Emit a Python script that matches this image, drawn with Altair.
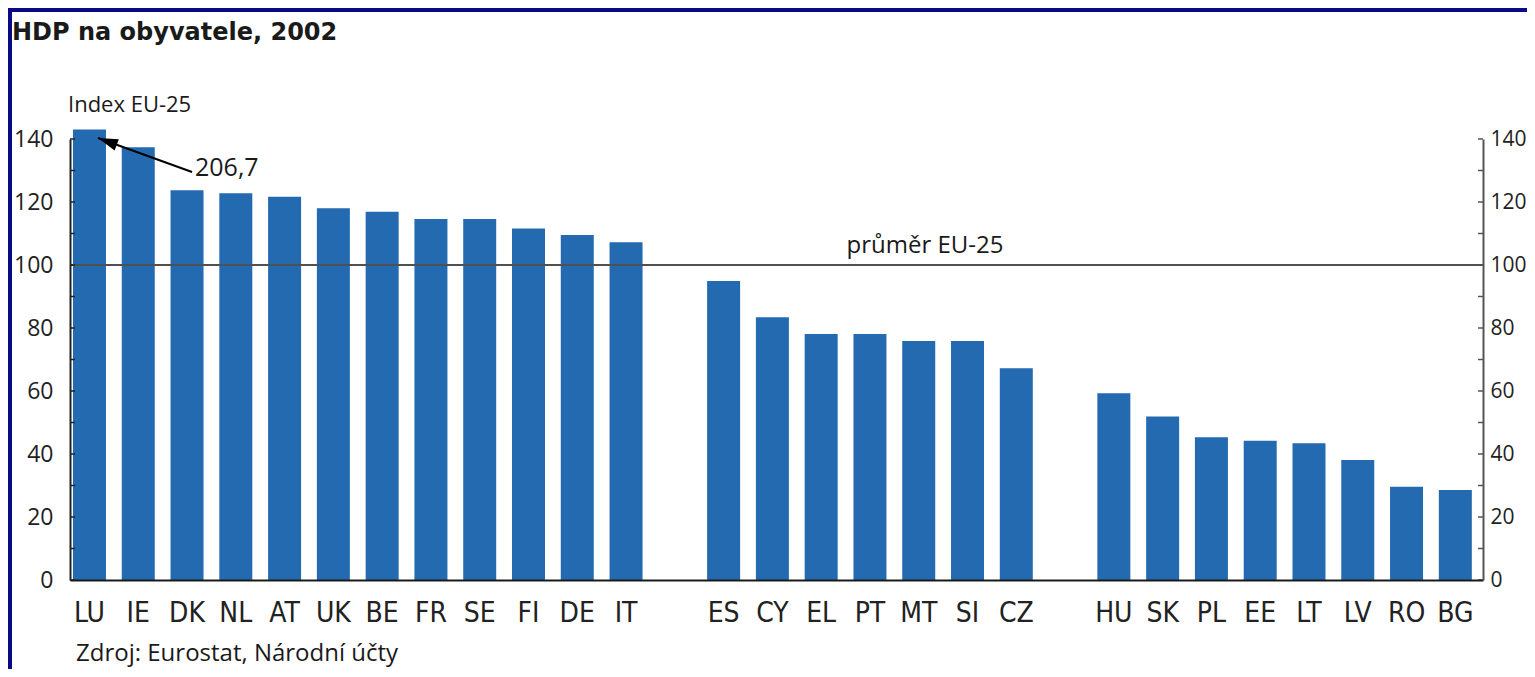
import altair as alt
import pandas as pd

# ---- data ----
group1 = ["LU", "IE", "DK", "NL", "AT", "UK", "BE", "FR", "SE", "FI", "DE", "IT"]
values1 = [206.7, 137.4, 123.7, 122.8, 121.7, 118.0, 116.9, 114.6, 114.6, 111.6, 109.5, 107.2]
group2 = ["ES", "CY", "EL", "PT", "MT", "SI", "CZ"]
values2 = [94.9, 83.4, 78.1, 78.1, 75.9, 75.9, 67.2]
group3 = ["HU", "SK", "PL", "EE", "LT", "LV", "RO", "BG"]
values3 = [59.3, 51.9, 45.3, 44.2, 43.4, 38.1, 29.6, 28.6]
gap_a, gap_b = " ", "  "
y_ticks = [0, 20, 40, 60, 80, 100, 120, 140]
minor_ticks = [0, 10, 20, 30, 40, 50, 60, 70, 80, 90, 100, 110, 120, 130, 140]
eu_average = 100

title_text = "HDP na obyvatele, 2002"
unit_text = "Index EU-25"
avg_text = "průměr EU-25"
lu_text = "206,7"
source_text = "Zdroj: Eurostat, Národní účty"

# ---- styling ----
NAVY = "#0A0A84"
BAR = "#246AB0"
W, H = 1413, 441
SANS = "Open Sans"
NARROW = "DejaVu Sans Condensed, Roboto, Open Sans"

x_domain = group1 + [gap_a] + group2 + [gap_b] + group3
df = pd.DataFrame({"country": group1 + group2 + group3,
                   "value": values1 + values2 + values3})

yscale = alt.Scale(domain=[0, 140], nice=False, zero=True)

panel = alt.Chart(pd.DataFrame({"k": [0]})).mark_rect(color="white").encode(
    x=alt.value(-58), x2=alt.value(W + 80), y=alt.value(-127), y2=alt.value(H + 120)
)

bars = alt.Chart(df).transform_calculate(
    shown="min(datum.value, 143)"
).mark_bar(color=BAR).encode(
    x=alt.X("country:N", sort=None,
            scale=alt.Scale(domain=x_domain, paddingInner=0.3235, paddingOuter=0.145, align=0.21),
            axis=alt.Axis(title=None, labelAngle=0, ticks=False, labelFont=NARROW,
                          labelFontSize=28, labelPadding=19, labelColor="#222",
                          domainColor="#1a1a1a", domainWidth=2, zindex=1)),
    y=alt.Y("shown:Q", scale=yscale,
            axis=alt.Axis(title=None, values=y_ticks, ticks=False, grid=False,
                          labelPadding=17, labelFont=SANS, labelFontSize=23,
                          labelColor="#222", domainColor="#222", domainWidth=2, zindex=1)),
)

tick_df = pd.DataFrame({"t": minor_ticks})
ticks_left = alt.Chart(tick_df).mark_rule(color="#222", strokeWidth=1.5).encode(
    y=alt.Y("t:Q", scale=yscale, axis=None), x=alt.value(0), x2=alt.value(5)
)
ticks_right = alt.Chart(tick_df).mark_rule(color="#555", strokeWidth=1.5).encode(
    y=alt.Y("t:Q", scale=yscale,
            axis=alt.Axis(orient="right", title=None, values=y_ticks, ticks=False, grid=False,
                          labelPadding=7, labelFont=SANS, labelFontSize=21,
                          labelColor="#222", domainColor="#555", domainWidth=2, zindex=1)),
    x=alt.value(W - 5), x2=alt.value(W)
)

avg_rule = alt.Chart(pd.DataFrame({"a": [eu_average]})).mark_rule(
    color="#505050", strokeWidth=2
).encode(y=alt.Y("a:Q", scale=yscale, axis=None))


def label(text, x, y, size, font=SANS, weight="normal", align="left"):
    return alt.Chart(pd.DataFrame({"t": [text]})).mark_text(
        font=font, fontSize=size, fontWeight=weight, align=align,
        baseline="alphabetic", color="#1a1a1a"
    ).encode(text="t:N", x=alt.value(x), y=alt.value(y))


title = label(title_text, -58, -99, 24, font="DejaVu Sans", weight="bold")
unit = label(unit_text, -2, -27, 22)
avg_lbl = label(avg_text, 855, 114, 24, align="center")
lu_lbl = label(lu_text, 125, 37, 25)
source = label(source_text, 6, 522, 24)

arrow_line = alt.Chart(pd.DataFrame({"k": [0]})).mark_rule(color="black", strokeWidth=2).encode(
    x=alt.value(28), y=alt.value(-1), x2=alt.value(122), y2=alt.value(33)
)
arrow_head = alt.Chart(pd.DataFrame({"k": [0]})).mark_point(
    shape="M0,0L0.832,0.630L1.042,0.068Z", filled=True, color="black", opacity=1, size=1600
).encode(x=alt.value(28), y=alt.value(-1))

chart = alt.layer(
    panel, bars, avg_rule, ticks_left, ticks_right,
    title, unit, avg_lbl, lu_lbl, source, arrow_line, arrow_head
).resolve_axis(y="independent").properties(
    width=W, height=H, background=NAVY,
    autosize=alt.AutoSizeParams(type="none"),
    padding={"left": 62, "top": 131, "right": 44, "bottom": 89},
).configure_view(stroke=None)

chart.save("out.html", embed_options={"renderer": "svg", "actions": False})
